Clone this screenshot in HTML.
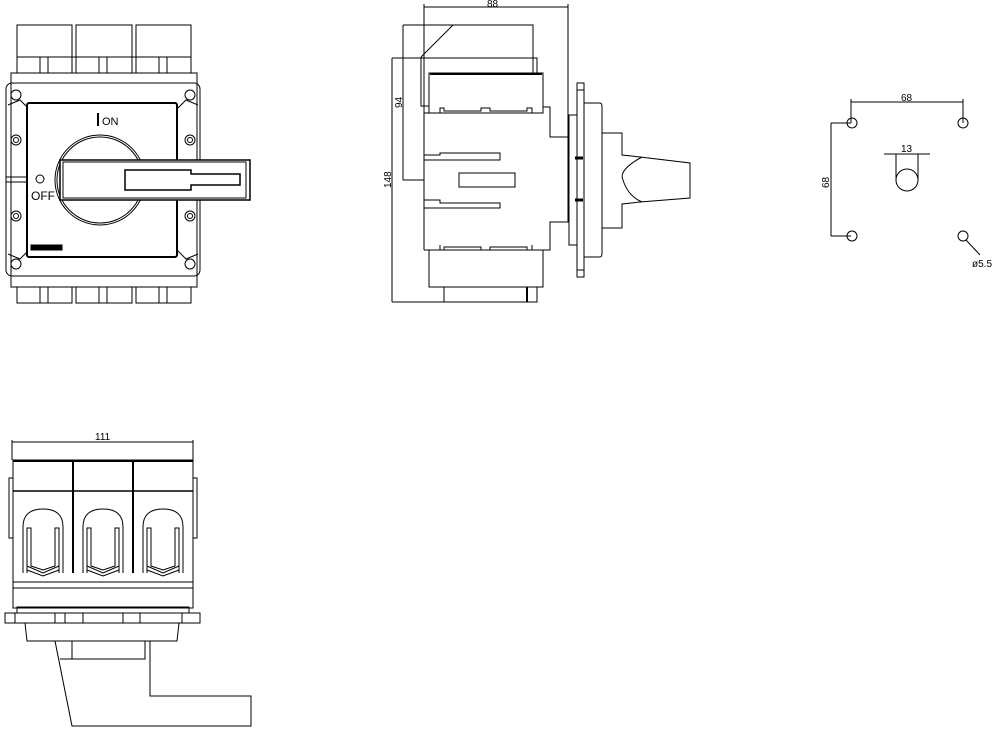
<!DOCTYPE html>
<html><head><meta charset="utf-8"><style>
html,body{margin:0;padding:0;background:#fff;}
svg{display:block;}
text{font-family:"Liberation Sans",sans-serif;fill:#000;}
</style></head><body>
<svg width="999" height="736" viewBox="0 0 999 736" xmlns="http://www.w3.org/2000/svg" fill="none" stroke="#000" stroke-width="1">
<!-- FRONT VIEW -->
<g>
<rect x="17" y="25" width="55" height="48"/><rect x="76" y="25" width="56" height="48"/><rect x="136" y="25" width="55" height="48"/>
<line x1="17" y1="57" x2="191" y2="57"/>
<line x1="40" y1="57" x2="40" y2="73"/><line x1="48" y1="57" x2="48" y2="73"/>
<line x1="99" y1="57" x2="99" y2="73"/><line x1="107" y1="57" x2="107" y2="73"/>
<line x1="159" y1="57" x2="159" y2="73"/><line x1="167" y1="57" x2="167" y2="73"/>
<rect x="11" y="73" width="186" height="214"/>
<rect x="6" y="83" width="194" height="193" rx="6"/>
<circle cx="16" cy="95" r="5"/><circle cx="190" cy="95" r="5"/><circle cx="16" cy="264" r="5"/><circle cx="190" cy="264" r="5"/>
<circle cx="16" cy="140" r="5"/><circle cx="16" cy="140" r="2.5"/><circle cx="190" cy="140" r="5"/><circle cx="190" cy="140" r="2.5"/>
<circle cx="16" cy="216" r="5"/><circle cx="16" cy="216" r="2.5"/><circle cx="190" cy="216" r="5"/><circle cx="190" cy="216" r="2.5"/>
<line x1="6" y1="177" x2="27" y2="177"/><line x1="6" y1="182" x2="27" y2="182"/>
<polyline points="8,105 20,100 30,110"/><polyline points="198,105 186,100 176,110"/>
<polyline points="8,254 20,259 30,249"/><polyline points="198,254 186,259 176,249"/>
<rect x="27" y="103" width="150" height="154" rx="2" stroke-width="2" fill="#fff"/>
<circle cx="100" cy="180" r="45"/>
<circle cx="100" cy="180" r="43"/>
<rect x="60" y="160" width="190" height="40" stroke-width="1.5" fill="#fff"/>
<rect x="63" y="162" width="183" height="36"/>
<path d="M125 170 H191 V174 H240 V185 H191 V190 H125 Z" stroke-width="1.5"/>
<line x1="98" y1="113" x2="98" y2="126" stroke-width="2"/>
<text x="102" y="125" font-size="11" stroke="none">ON</text>
<circle cx="40" cy="179" r="4"/>
<text x="31" y="200" font-size="12" stroke="none">OFF</text>
<rect x="31" y="245" width="31" height="5" fill="#000"/>
<rect x="17" y="287" width="55" height="16"/><rect x="76" y="287" width="56" height="16"/><rect x="136" y="287" width="55" height="16"/>
<line x1="40" y1="287" x2="40" y2="303"/><line x1="48" y1="287" x2="48" y2="303"/>
<line x1="99" y1="287" x2="99" y2="303"/><line x1="107" y1="287" x2="107" y2="303"/>
<line x1="159" y1="287" x2="159" y2="303"/><line x1="167" y1="287" x2="167" y2="303"/>
</g>
<!-- SIDE VIEW -->
<g>
<line x1="424" y1="7" x2="568" y2="7"/><line x1="424" y1="4" x2="424" y2="113"/><line x1="568" y1="4" x2="568" y2="137"/>
<text x="487" y="7" font-size="10" stroke="none">88</text>
<polyline points="403,25 533,25 533,73"/>
<line x1="453" y1="25" x2="421" y2="57"/>
<polyline points="421,57 421,106 429,106"/>
<polyline points="392,58 537,58 537,73"/>
<line x1="403" y1="25" x2="403" y2="180"/><line x1="403" y1="180" x2="424" y2="180"/>
<text x="0" y="0" font-size="10" stroke="none" transform="translate(402,108) rotate(-90)">94</text>
<line x1="392" y1="58" x2="392" y2="302"/><line x1="392" y1="302" x2="537" y2="302"/>
<text x="0" y="0" font-size="10" stroke="none" transform="translate(391,188) rotate(-90)">148</text>
<rect x="429" y="73" width="114" height="40"/>
<line x1="430" y1="74" x2="542" y2="74" stroke-width="2"/>
<polyline points="440,113 440,108 444,108 444,111 481,111 481,108 490,108 490,111 527,111 527,108 532,108 532,113"/>
<polyline points="424,113 424,250"/>
<polyline points="543,107 550,107 550,137 568,137 568,222 550,222 550,250 424,250"/>
<line x1="424" y1="113" x2="543" y2="113"/>
<polyline points="424,155 440,155 440,153 500,153 500,160 440,160 440,160 424,160"/>
<polyline points="424,200 440,200 440,203 500,203 500,208 440,208 424,208"/>
<rect x="459" y="173" width="56" height="14"/>
<rect x="429" y="250" width="114" height="37"/>
<polyline points="440,245 440,250 444,250 444,247 481,247 481,250 490,250 490,247 527,247 527,250 532,250 532,245"/>
<rect x="444" y="287" width="93" height="15"/><line x1="527" y1="287" x2="527" y2="302" stroke-width="2"/>
<rect x="569" y="115" width="8" height="130"/>
<rect x="577" y="83" width="7" height="194"/>
<line x1="577" y1="90" x2="584" y2="90"/><line x1="577" y1="270" x2="584" y2="270"/>
<path d="M584 103 H600 Q602 103 602 107 V253 Q602 257 600 257 H584"/>
<polyline points="602,133 622,133 622,155 640,157 690,163 690,198 640,202 622,204 622,228 602,228"/>
<path d="M642 157 Q618 170 623 180 Q628 196 642 202"/>
<line x1="575" y1="158" x2="583" y2="158" stroke-width="3"/><line x1="575" y1="200" x2="583" y2="200" stroke-width="3"/>
</g>
<!-- MOUNTING -->
<g>
<line x1="851" y1="102" x2="963" y2="102"/><line x1="851" y1="99" x2="851" y2="123"/><line x1="963" y1="99" x2="963" y2="123"/>
<text x="901" y="101" font-size="10" stroke="none">68</text>
<line x1="831" y1="123" x2="831" y2="236"/><line x1="831" y1="123" x2="851" y2="123"/><line x1="831" y1="236" x2="851" y2="236"/>
<text x="0" y="0" font-size="10" stroke="none" transform="translate(829,188) rotate(-90)">68</text>
<circle cx="852" cy="123" r="5"/><circle cx="963" cy="123" r="5"/><circle cx="852" cy="236" r="5"/><circle cx="963" cy="236" r="5"/>
<circle cx="907" cy="180" r="11"/>
<line x1="884" y1="154" x2="930" y2="154"/><line x1="896" y1="154" x2="896" y2="180"/><line x1="918" y1="154" x2="918" y2="180"/>
<text x="901" y="152" font-size="10" stroke="none">13</text>
<line x1="966" y1="240" x2="980" y2="255"/>
<text x="972" y="267" font-size="10" stroke="none">ø5.5</text>
</g>
<!-- BOTTOM VIEW -->
<g>
<line x1="12" y1="442" x2="193" y2="442"/><line x1="12" y1="440" x2="12" y2="460"/><line x1="193" y1="440" x2="193" y2="460"/>
<text x="95" y="440" font-size="10" stroke="none">111</text>
<rect x="13" y="460" width="180" height="148"/>
<line x1="13" y1="461" x2="193" y2="461" stroke-width="2"/>
<line x1="13" y1="491" x2="193" y2="491" stroke-width="1.5"/>
<line x1="73" y1="461" x2="73" y2="573" stroke-width="2"/><line x1="133" y1="461" x2="133" y2="573" stroke-width="2"/>
<line x1="13" y1="582" x2="193" y2="582"/><line x1="13" y1="588" x2="193" y2="588"/>
<rect x="9" y="478" width="4" height="60"/><rect x="193" y="478" width="4" height="60"/>
<g id="arch">
<path d="M23 573 V527 Q23 509 43 509 Q63 509 63 527 V573"/>
<path d="M27 573 V528 H31 V566 L43 570 L55 566 V528 H59 V573"/>
<path d="M27 566 L43 573 L59 566" /><path d="M27 570 L43 576 L59 570"/>
</g>
<use href="#arch" transform="translate(60,0)"/><use href="#arch" transform="translate(120,0)"/>
<rect x="17" y="607" width="172" height="6"/>
<rect x="5" y="613" width="195" height="10"/>
<line x1="15" y1="613" x2="15" y2="623"/><line x1="55" y1="613" x2="55" y2="623"/><line x1="65" y1="613" x2="65" y2="623"/>
<line x1="83" y1="613" x2="83" y2="623"/><line x1="123" y1="613" x2="123" y2="623"/><line x1="140" y1="613" x2="140" y2="623"/><line x1="182" y1="613" x2="182" y2="623"/>
<path d="M25 623 L27 641 H177 L179 623"/>
<polyline points="55,641 72,726 251,726 251,696 150,696 150,641"/>
<polyline points="60,659 145,659 145,641"/>
<line x1="72" y1="641" x2="72" y2="659"/>
</g>
</svg>
</body></html>
